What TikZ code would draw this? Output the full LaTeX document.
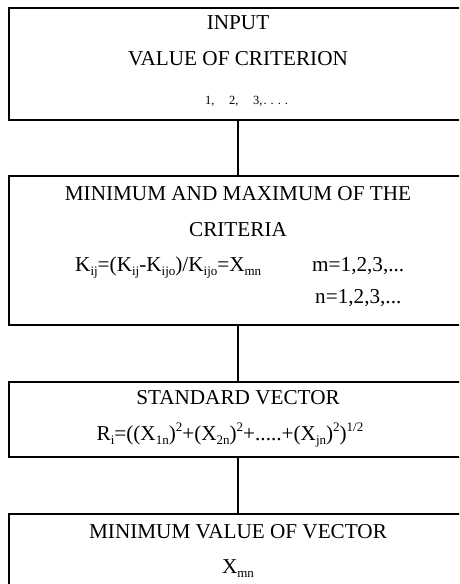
\documentclass[tikz,border=0pt]{standalone}
\usepackage{fontspec}
\setmainfont{Liberation Serif}
\newcommand\lo[1]{\raisebox{-0.2em}{\fontsize{13}{13}\selectfont #1}}
\newcommand\hi[1]{\raisebox{0.42em}{\fontsize{13}{13}\selectfont #1}}
\begin{document}
\begin{tikzpicture}[x=1pt,y=-1pt,
  box/.style={draw,line width=1.2pt,minimum width=458pt,inner sep=0pt,outer sep=0pt},
  conn/.style={draw,line width=1.2pt},
  txt/.style={font=\fontsize{21.2}{25}\selectfont,inner sep=0pt,anchor=base},
  small/.style={font=\fontsize{12.5}{15}\selectfont,inner sep=0pt,anchor=base west}]
\path[use as bounding box] (0,0) rectangle (459,584);
\clip (0,0) rectangle (459,584);
% boxes
\node[box,minimum height=112pt] (b1) at (238,64) {};
\node[box,minimum height=149pt] (b2) at (238,250.5) {};
\node[box,minimum height=75pt]  (b3) at (238,419.5) {};
\node[box,minimum height=112pt] (b4) at (238,570) {};
% connectors
\draw[conn] (b1.south) -- (b2.north);
\draw[conn] (b2.south) -- (b3.north);
\draw[conn] (b3.south) -- (b4.north);
% texts box 1
\node[txt] (t1a) at (238,29) {INPUT};
\node[txt] (t1b) at (238,65) {VALUE OF CRITERION};
\node[small] (t1c) at (205,104) {1,\hspace{14.6pt}2,\hspace{14.6pt}3,\hspace{1pt}{.}\hspace{4pt}{.}\hspace{4pt}{.}\hspace{4pt}{.}};
% box 2
\node[txt] (t2a) at (238,200) {MINIMUM AND MAXIMUM OF THE};
\node[txt] (t2b) at (238,236) {CRITERIA};
\node[txt,anchor=base west] (t2c) at (75,271) {K\lo{ij}=(K\lo{ij}-K\lo{ijo})/K\lo{ijo}=X\lo{mn}};
\node[txt,anchor=base west] (t2d) at (312,271) {m=1,2,3,...};
\node[txt,anchor=base west] (t2e) at (315,303) {n=1,2,3,...};
% box 3
\node[txt] (t3a) at (238,404) {STANDARD VECTOR};
\node[txt] (t3b) at (230,440) {R\lo{i}=((X\lo{1n})\hi{2}+(X\lo{2n})\hi{2}+.....+(X\lo{jn})\hi{2})\hi{1/2}};
% box 4
\node[txt] (t4a) at (238,538) {MINIMUM VALUE OF VECTOR};
\node[txt] (t4b) at (238,573) {X\lo{mn}};
\end{tikzpicture}
\end{document}
